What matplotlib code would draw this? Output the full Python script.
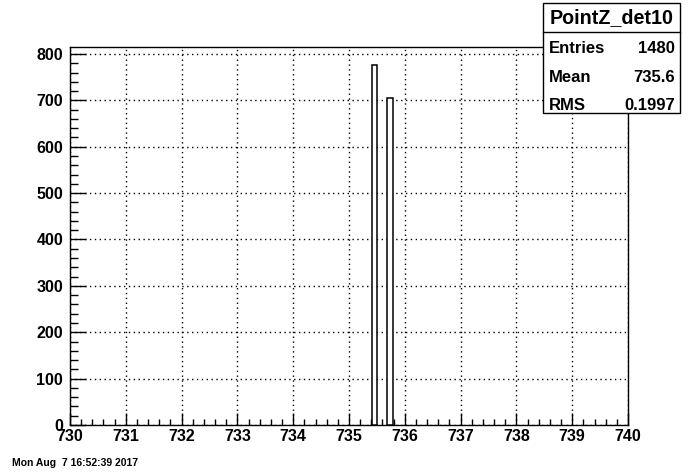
import matplotlib
matplotlib.use("Agg")
import matplotlib.pyplot as plt
from matplotlib.ticker import MultipleLocator
from matplotlib.patches import Rectangle
from matplotlib.lines import Line2D

# Data
bin_left = [735.41, 735.675]
bin_width = [0.095, 0.105]
counts = [776, 704]
x_range = (730, 740)
y_range = (0, 815)
title = "PointZ_det10"
stats_labels = ["Entries", "Mean", "RMS"]
stats_values = ["1480", "735.6", "0.1997"]
date_text = "Mon Aug  7 16:52:39 2017"

plt.rcParams['font.family'] = ['Liberation Sans', 'DejaVu Sans']
plt.rcParams['font.weight'] = 'bold'

W, H = 696, 474
fig = plt.figure(figsize=(W / 100, H / 100), dpi=100)
L, R, T, B = 70, 628, 47, 425
ax = fig.add_axes([L / W, 1 - B / H, (R - L) / W, (B - T) / H])

ax.bar(bin_left, counts, width=bin_width, align='edge', facecolor='white',
       edgecolor='black', linewidth=1.1, zorder=3)

ax.set_xlim(*x_range)
ax.set_ylim(*y_range)
ax.xaxis.set_major_locator(MultipleLocator(1))
ax.xaxis.set_minor_locator(MultipleLocator(0.2))
ax.yaxis.set_major_locator(MultipleLocator(100))
ax.yaxis.set_minor_locator(MultipleLocator(20))
ax.tick_params(axis='both', which='both', direction='in', top=False, right=False,
               width=1, color='black')
ax.tick_params(axis='x', which='major', length=8.5, pad=3.2, labelsize=11.5)
ax.tick_params(axis='x', which='minor', length=4.3)
ax.tick_params(axis='y', which='major', length=11.5, pad=5.0, labelsize=11.5)
ax.tick_params(axis='y', which='minor', length=5.8)
for lab in ax.get_xticklabels() + ax.get_yticklabels():
    lab.set_fontweight('bold')
ax.grid(True, which='major', color='black', linestyle=(0, (1, 2.5)), linewidth=1)
ax.set_axisbelow(True)
for sp in ax.spines.values():
    sp.set_linewidth(1)
    sp.set_color('black')

# Stats box
bx0, bx1, by0, by1, bsep = 542.5, 680, 3, 113, 32
fig.patches.append(Rectangle((bx0 / W, 1 - by1 / H), (bx1 - bx0) / W, (by1 - by0) / H,
                             transform=fig.transFigure, facecolor='white',
                             edgecolor='black', linewidth=1, zorder=10))
fig.lines.append(Line2D([bx0 / W, bx1 / W], [1 - bsep / H, 1 - bsep / H],
                        transform=fig.transFigure, color='black', linewidth=1, zorder=11))
fig.text((bx0 + bx1) / 2 / W, 1 - 22.7 / H, title, ha='center', va='baseline',
         fontsize=14.2, fontweight='bold', zorder=12)
baselines = [53.3, 81.7, 110]
for lab, val, yb in zip(stats_labels, stats_values, baselines):
    fig.text(549 / W, 1 - yb / H, lab, ha='left', va='baseline', fontsize=12,
             fontweight='bold', zorder=12)
    fig.text(675 / W, 1 - yb / H, val, ha='right', va='baseline', fontsize=12,
             fontweight='bold', zorder=12)

fig.text(12 / W, 1 - 465.7 / H, date_text, ha='left', va='baseline', fontsize=7.5,
         fontweight='bold')

fig.savefig("out.png", dpi=100)
